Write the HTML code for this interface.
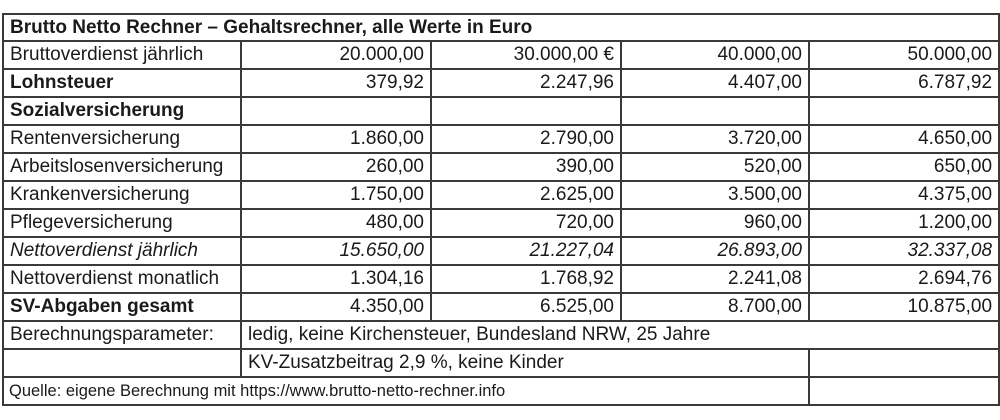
<!DOCTYPE html>
<html><head><meta charset="utf-8"><style>
html,body{margin:0;padding:0;background:#fff;width:1000px;height:420px;overflow:hidden}
table{position:absolute;left:2px;top:13px;width:996px;border-collapse:collapse;table-layout:fixed;font-family:"Liberation Sans",sans-serif;font-size:19px;color:#1a1a1a}
td{border:2px solid #3a3a3a;height:26px;padding:0 6px;white-space:nowrap;overflow:hidden;line-height:26px}
td.r{text-align:right}
.b{font-weight:bold}
.i{font-style:italic}
tr.t td{height:25px;line-height:25px}
</style></head><body>
<table>
<colgroup><col style="width:238px"><col style="width:190px"><col style="width:190px"><col style="width:188px"><col style="width:190px"></colgroup>
<tr class="t"><td colspan="5" class="b">Brutto Netto Rechner – Gehaltsrechner, alle Werte in Euro</td></tr>
<tr><td>Bruttoverdienst jährlich</td><td class="r">20.000,00</td><td class="r">30.000,00 €</td><td class="r">40.000,00</td><td class="r">50.000,00</td></tr>
<tr class="b"><td>Lohnsteuer</td><td class="r" style="font-weight:normal">379,92</td><td class="r" style="font-weight:normal">2.247,96</td><td class="r" style="font-weight:normal">4.407,00</td><td class="r" style="font-weight:normal">6.787,92</td></tr>
<tr><td class="b">Sozialversicherung</td><td></td><td></td><td></td><td></td></tr>
<tr><td>Rentenversicherung</td><td class="r">1.860,00</td><td class="r">2.790,00</td><td class="r">3.720,00</td><td class="r">4.650,00</td></tr>
<tr><td>Arbeitslosenversicherung</td><td class="r">260,00</td><td class="r">390,00</td><td class="r">520,00</td><td class="r">650,00</td></tr>
<tr><td>Krankenversicherung</td><td class="r">1.750,00</td><td class="r">2.625,00</td><td class="r">3.500,00</td><td class="r">4.375,00</td></tr>
<tr><td>Pflegeversicherung</td><td class="r">480,00</td><td class="r">720,00</td><td class="r">960,00</td><td class="r">1.200,00</td></tr>
<tr class="i"><td>Nettoverdienst jährlich</td><td class="r">15.650,00</td><td class="r">21.227,04</td><td class="r">26.893,00</td><td class="r">32.337,08</td></tr>
<tr><td>Nettoverdienst monatlich</td><td class="r">1.304,16</td><td class="r">1.768,92</td><td class="r">2.241,08</td><td class="r">2.694,76</td></tr>
<tr><td class="b">SV-Abgaben gesamt</td><td class="r">4.350,00</td><td class="r">6.525,00</td><td class="r">8.700,00</td><td class="r">10.875,00</td></tr>
<tr><td>Berechnungsparameter:</td><td colspan="4">ledig, keine Kirchensteuer, Bundesland NRW, 25 Jahre</td></tr>
<tr><td></td><td colspan="3">KV-Zusatzbeitrag 2,9 %, keine Kinder</td><td></td></tr>
<tr><td colspan="4" style="font-size:16.5px;padding-left:5px">Quelle: eigene Berechnung mit https://www.brutto-netto-rechner.info</td><td></td></tr>
</table>
</body></html>
